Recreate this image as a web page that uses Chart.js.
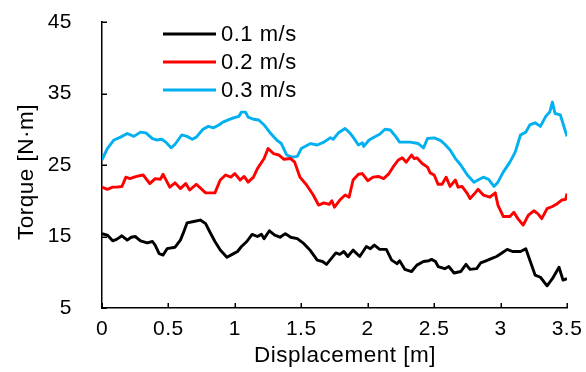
<!DOCTYPE html>
<html>
<head>
<meta charset="utf-8">
<script src="https://cdn.jsdelivr.net/npm/chart.js@4/dist/chart.umd.min.js"></script>
<style>
  html, body { margin: 0; padding: 0; background: #ffffff; }
  #wrap { width: 586px; height: 372px; }
</style>
</head>
<body>
<div id="wrap"><canvas id="c" width="586" height="372"></canvas></div>
<script>
// ---- Data ----
const seriesLabels = ['0.1 m/s', '0.2 m/s', '0.3 m/s'];
const xTickValues = [0, 0.5, 1, 1.5, 2, 2.5, 3, 3.5];
const yTickValues = [5, 15, 25, 35, 45];
const xAxisTitle = 'Displacement [m]';
const yAxisTitle = 'Torque [N\u00b7m]';

const disp01 = [0.00,0.04,0.08,0.11,0.15,0.19,0.22,0.25,0.29,0.34,0.38,0.40,0.43,0.46,0.49,0.55,0.59,0.61,0.64,0.69,0.74,0.78,0.81,0.85,0.89,0.94,0.98,1.02,1.05,1.09,1.13,1.17,1.20,1.22,1.26,1.30,1.34,1.38,1.42,1.47,1.52,1.57,1.62,1.66,1.69,1.73,1.76,1.79,1.82,1.85,1.89,1.94,1.99,2.02,2.05,2.09,2.14,2.18,2.22,2.24,2.28,2.33,2.37,2.42,2.46,2.48,2.51,2.53,2.58,2.61,2.65,2.70,2.74,2.77,2.82,2.85,2.89,2.93,2.97,3.01,3.05,3.09,3.15,3.19,3.22,3.26,3.30,3.35,3.39,3.44,3.47,3.50];
const torque01 = [15.4,15.2,14.4,14.6,15.1,14.5,14.9,15.0,14.4,14.1,14.3,13.8,12.6,12.4,13.3,13.5,14.5,15.4,16.9,17.1,17.3,16.8,15.7,14.3,13.1,12.1,12.5,12.9,13.6,14.3,15.3,15.0,15.3,14.7,15.8,15.2,14.9,15.4,14.9,14.7,14.0,13.0,11.7,11.5,11.1,12.0,12.7,12.5,12.9,12.2,13.1,12.2,13.6,13.3,13.8,13.2,13.2,11.7,11.2,11.6,10.4,10.1,11.0,11.5,11.6,11.8,11.5,10.8,10.5,10.8,9.9,10.1,11.1,10.4,10.5,11.3,11.6,11.9,12.2,12.7,13.2,12.9,12.9,13.3,11.7,9.6,9.3,8.1,9.1,10.7,8.9,9.1];

const disp02 = [0.00,0.04,0.08,0.11,0.15,0.18,0.21,0.26,0.31,0.36,0.40,0.44,0.46,0.51,0.55,0.59,0.63,0.66,0.71,0.78,0.85,0.89,0.93,0.97,1.00,1.04,1.07,1.10,1.14,1.17,1.22,1.25,1.29,1.33,1.37,1.42,1.45,1.49,1.54,1.59,1.63,1.67,1.71,1.73,1.75,1.79,1.83,1.86,1.89,1.93,1.96,2.00,2.04,2.08,2.12,2.16,2.19,2.23,2.26,2.29,2.33,2.35,2.37,2.41,2.45,2.47,2.50,2.53,2.56,2.59,2.62,2.66,2.68,2.71,2.75,2.77,2.80,2.83,2.87,2.92,2.96,2.98,3.02,3.07,3.10,3.13,3.17,3.21,3.25,3.28,3.31,3.35,3.39,3.42,3.46,3.49,3.50];
const torque02 = [21.9,21.6,21.9,21.9,22.0,23.3,23.1,23.4,23.6,22.4,23.1,23.0,23.7,21.9,22.5,21.7,22.4,21.5,22.3,21.1,21.1,22.9,23.6,23.3,23.8,22.9,23.4,22.6,23.3,24.5,25.9,27.3,26.6,26.4,25.8,25.9,25.4,23.3,22.2,20.8,19.4,19.7,19.5,20.0,19.1,20.1,20.8,20.5,22.9,23.7,23.8,22.8,23.3,23.4,23.1,23.8,24.7,25.7,26.0,25.4,26.4,25.9,26.0,25.2,24.7,23.9,23.6,22.3,22.3,23.3,22.0,22.9,21.9,22.0,21.0,20.3,20.9,21.6,20.8,20.5,21.1,19.4,17.8,17.8,18.4,17.5,16.6,18.0,18.6,18.2,17.5,18.9,19.2,19.5,20.1,20.2,21.0];

const disp03 = [0.00,0.04,0.09,0.14,0.19,0.24,0.29,0.33,0.38,0.41,0.45,0.48,0.52,0.55,0.60,0.64,0.68,0.71,0.76,0.80,0.84,0.88,0.91,0.95,0.99,1.03,1.05,1.08,1.10,1.14,1.18,1.22,1.27,1.32,1.35,1.39,1.43,1.47,1.50,1.57,1.62,1.67,1.72,1.74,1.78,1.83,1.87,1.89,1.93,1.96,1.97,2.01,2.04,2.09,2.13,2.17,2.21,2.24,2.32,2.38,2.42,2.45,2.50,2.55,2.58,2.62,2.66,2.70,2.75,2.80,2.83,2.87,2.91,2.95,2.98,3.02,3.07,3.11,3.15,3.19,3.22,3.26,3.30,3.34,3.37,3.39,3.41,3.45,3.47,3.50];
const torque03 = [25.7,27.3,28.5,28.9,29.4,29.0,29.6,29.5,28.7,28.5,28.6,28.2,27.4,27.9,29.2,29.0,28.6,28.9,30.0,30.4,30.2,30.6,31.0,31.3,31.6,31.8,32.4,32.4,31.7,31.4,31.3,30.6,29.4,28.4,28.0,26.4,26.1,26.2,27.3,28.0,27.8,28.2,28.8,28.6,29.5,30.1,29.4,28.9,27.8,28.1,27.6,28.5,28.8,29.3,30.0,29.9,29.0,28.2,28.2,28.0,27.4,28.7,28.8,28.4,27.9,27.1,25.9,25.0,23.6,22.6,22.9,23.3,23.0,22.0,22.6,24.0,25.4,26.8,29.2,29.6,30.6,30.9,30.4,31.8,32.4,33.8,32.2,32.0,30.8,29.0];

const seriesColors = ['#000000', '#ff0000', '#00b0f0'];

// ---- Build chart data ----
function pts(xs, ys) { return xs.map((x, i) => ({ x: x, y: ys[i] })); }
const datasets = [
  { label: seriesLabels[0], data: pts(disp01, torque01) },
  { label: seriesLabels[1], data: pts(disp02, torque02) },
  { label: seriesLabels[2], data: pts(disp03, torque03) }
].map((d, i) => Object.assign(d, {
  borderColor: seriesColors[i],
  backgroundColor: seriesColors[i],
  borderWidth: 2.9,
  borderJoinStyle: 'round',
  pointRadius: 0,
  tension: 0,
  fill: false
}));

const FONT = '"Liberation Sans", Arial, sans-serif';
const LS = '0.5px';
const CLEAR = 'rgba(0,0,0,0)';

const spacingPlugin = {
  id: 'spacing',
  beforeUpdate(chart) { chart.ctx.letterSpacing = LS; },
  beforeLayout(chart) { chart.ctx.letterSpacing = LS; },
  beforeDraw(chart) { chart.ctx.letterSpacing = LS; }
};

const decorPlugin = {
  id: 'decor',
  afterDraw(chart) {
    const ctx = chart.ctx;
    const xs = chart.scales.x, ys = chart.scales.y;
    const area = chart.chartArea;
    ctx.save();
    ctx.letterSpacing = LS;
    // inward tick marks
    ctx.strokeStyle = '#000';
    ctx.lineWidth = 1.5;
    const tl = 5;
    ctx.beginPath();
    xTickValues.forEach(v => {
      const px = Math.round(xs.getPixelForValue(v)) + 0.25;
      ctx.moveTo(px, area.bottom);
      ctx.lineTo(px, area.bottom - tl);
    });
    yTickValues.forEach(v => {
      const py = Math.round(ys.getPixelForValue(v)) + 0.25;
      ctx.moveTo(area.left, py);
      ctx.lineTo(area.left + tl, py);
    });
    ctx.stroke();
    // axis titles
    ctx.fillStyle = '#000';
    ctx.font = '22.5px ' + FONT;
    ctx.textAlign = 'center';
    ctx.textBaseline = 'middle';
    ctx.fillText(xAxisTitle, 345, 356);
    ctx.save();
    ctx.translate(27, 172);
    ctx.rotate(-Math.PI / 2);
    ctx.fillText(yAxisTitle, 0, 0);
    ctx.restore();
    // legend
    ctx.font = '22px ' + FONT;
    ctx.textAlign = 'left';
    const ly = [34, 62, 90];
    chart.data.datasets.forEach((d, i) => {
      ctx.strokeStyle = d.borderColor;
      ctx.lineWidth = 2.9;
      ctx.beginPath();
      ctx.moveTo(163, ly[i]);
      ctx.lineTo(216, ly[i]);
      ctx.stroke();
      ctx.fillStyle = '#000';
      ctx.fillText(d.label, 221, ly[i] + 1);
    });
    ctx.restore();
  }
};

new Chart(document.getElementById('c'), {
  type: 'line',
  data: { datasets: datasets },
  options: {
    responsive: false,
    animation: false,
    devicePixelRatio: 1,
    layout: { padding: { left: 0, right: 19, top: 22, bottom: 0 } },
    plugins: { legend: { display: false }, tooltip: { enabled: false }, title: { display: false } },
    scales: {
      x: {
        type: 'linear',
        min: 0, max: 3.5,
        afterFit(s) { s.height = 64; },
        afterBuildTicks(s) { s.ticks = xTickValues.map(v => ({ value: v })); },
        grid: { display: true, drawOnChartArea: false, drawTicks: true, tickLength: 8, tickColor: CLEAR },
        border: { display: true, color: '#000', width: 1.5 },
        ticks: {
          color: '#000', padding: 1,
          font: { family: FONT, size: 21 },
          maxRotation: 0, autoSkip: false,
          callback: v => String(v)
        }
      },
      y: {
        type: 'linear',
        min: 5, max: 45,
        afterFit(s) { s.width = 102; },
        afterBuildTicks(s) { s.ticks = yTickValues.map(v => ({ value: v })); },
        grid: { display: true, drawOnChartArea: false, drawTicks: true, tickLength: 28, tickColor: CLEAR },
        border: { display: true, color: '#000', width: 1.5 },
        ticks: {
          color: '#000', padding: 2,
          font: { family: FONT, size: 21 },
          autoSkip: false,
          callback: v => String(v)
        }
      }
    }
  },
  plugins: [spacingPlugin, decorPlugin]
});
</script>
</body>
</html>
